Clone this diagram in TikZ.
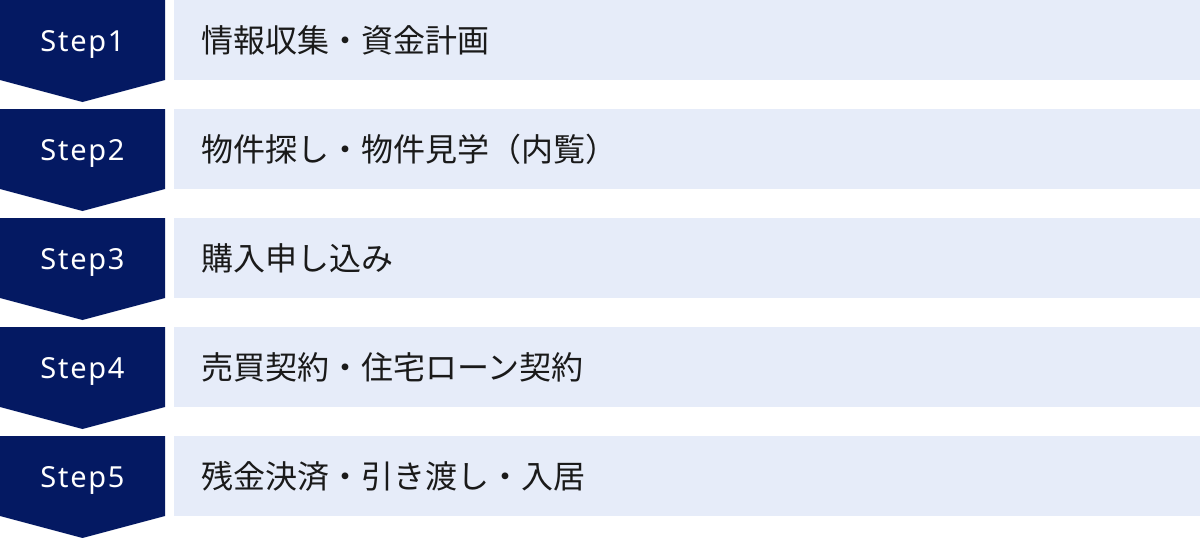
\documentclass[tikz,border=0pt]{standalone}
\usepackage{fontspec}
\setmainfont{Noto Sans}
\newfontfamily\stepfont[LetterSpace=6]{Noto Sans}
\newfontfamily\jpfont{Noto Sans CJK JP}
\definecolor{navy}{RGB}{4,25,98}
\definecolor{paleblue}{RGB}{230,236,249}
\definecolor{ink}{RGB}{26,26,26}

\begin{document}
\begin{tikzpicture}[
    x=1pt,y=1pt,
    chevron/.style={fill=navy},
    steplabel/.style={text=white,font=\stepfont\fontsize{29}{33}\selectfont,inner sep=0},
    stepbox/.style={
        fill=paleblue,anchor=north west,minimum width=1026pt,minimum height=80pt,
        inner xsep=27pt,text width=972pt,align=left,text=ink,
        font=\jpfont\fontsize{32}{38}\selectfont
    }
]
    \useasboundingbox (0,0) rectangle (1200,-538);

    % Step1
    \fill[chevron] (0,0) -- (165,0) -- (165,-80) -- (82.5,-102) -- (0,-80) -- cycle;
    \node[steplabel] (step1) at (82.5,-44) {Step1};
    \node[stepbox] (plan) at (174,0) {情報収集・資金計画};

    % Step2
    \fill[chevron] (0,-109) -- (165,-109) -- (165,-189) -- (82.5,-211) -- (0,-189) -- cycle;
    \node[steplabel] (step2) at (82.5,-153) {Step2};
    \node[stepbox] (search) at (174,-109) {物件探し・物件見学（内覧）};

    % Step3
    \fill[chevron] (0,-218) -- (165,-218) -- (165,-298) -- (82.5,-320) -- (0,-298) -- cycle;
    \node[steplabel] (step3) at (82.5,-262) {Step3};
    \node[stepbox] (apply) at (174,-218) {購入申し込み};

    % Step4
    \fill[chevron] (0,-327) -- (165,-327) -- (165,-407) -- (82.5,-429) -- (0,-407) -- cycle;
    \node[steplabel] (step4) at (82.5,-371) {Step4};
    \node[stepbox] (contract) at (174,-327) {売買契約・住宅ローン契約};

    % Step5
    \fill[chevron] (0,-436) -- (165,-436) -- (165,-516) -- (82.5,-538) -- (0,-516) -- cycle;
    \node[steplabel] (step5) at (82.5,-480) {Step5};
    \node[stepbox] (handover) at (174,-436) {残金決済・引き渡し・入居};

\end{tikzpicture}
\end{document}
